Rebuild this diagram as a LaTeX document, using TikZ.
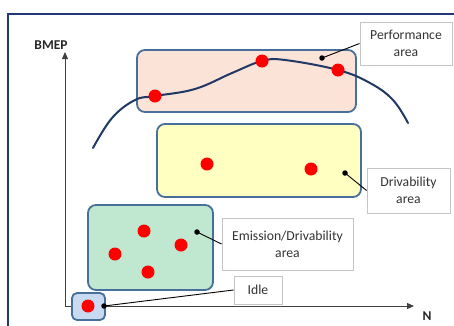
\documentclass[tikz,border=0pt]{standalone}
\usepackage{fontspec}
\setmainfont{Carlito}
\usetikzlibrary{arrows.meta}

\definecolor{frameblue}{HTML}{1F3A76}
\definecolor{regionedge}{HTML}{46709A}
\definecolor{perffill}{HTML}{FCE3D8}
\definecolor{drivfill}{HTML}{FFFFC2}
\definecolor{emisfill}{HTML}{C0E8D1}
\definecolor{idlefill}{HTML}{C8DAF1}
\definecolor{curveblue}{HTML}{1F3864}
\definecolor{calloutedge}{HTML}{C4C4C4}
\definecolor{axisgray}{HTML}{404040}

\tikzset{
  region/.style={draw=regionedge, line width=1.8pt, rounded corners=8pt,
    inner sep=0pt, outer sep=0pt},
  reddot/.style={circle, fill=red, inner sep=0pt, minimum size=13pt},
  blackdot/.style={circle, fill=black, inner sep=0pt, minimum size=5.5pt},
  callout/.style={draw=calloutedge, line width=0.9pt, fill=white, align=center,
    inner sep=0pt, text=black!80, font=\fontsize{13.7}{17}\selectfont},
  leader/.style={black, line width=0.9pt},
  axis/.style={axisgray, line width=1pt, -{Triangle[length=7pt,width=6pt]}},
  axislabel/.style={font=\fontsize{13.5}{16}\selectfont\bfseries, text=black!85},
  engcurve/.style={curveblue, line width=2pt, line cap=round}
}

\begin{document}
\begin{tikzpicture}[x=1pt, y=-1pt]
\useasboundingbox (0,0) rectangle (454,325);

% outer frame
\draw[frameblue, line width=2.4pt] (8,330) |- (460,14);

% axes
\coordinate (origin) at (65,306);
\coordinate (ytip) at (65,52);
\coordinate (xtip) at (414,306);
\draw[axis] (origin) -- (ytip);
\draw[axis] (64.5,306) -- (xtip);
\node[axislabel] (bmep) at (51,45) {BMEP};
\node[axislabel] (nlabel) at (427,316) {N};

% operating regions
\node[region, fill=perffill, minimum width=219pt, minimum height=62pt] (perf) at (246.5,81) {};
\node[region, fill=drivfill, minimum width=204pt, minimum height=73pt] (driv) at (259,160.5) {};
\node[region, fill=emisfill, minimum width=125pt, minimum height=85pt] (emis) at (150.5,247.5) {};
\node[region, fill=idlefill, rounded corners=5pt, minimum width=33pt, minimum height=27pt] (idle) at (88.5,306.5) {};

% full-load torque curve
\draw[engcurve] plot[smooth, tension=0.65] coordinates {
  (93,148) (112,118) (135,100) (155,96) (195,89) (232,73)
  (262,61) (285,60) (338,70) (370,83) (393,100) (408,123)};

% operating points
\node[reddot] (p1) at (155,96) {};
\node[reddot] (p2) at (262,61) {};
\node[reddot] (p3) at (338,70) {};
\node[reddot] (d1) at (207,164) {};
\node[reddot] (d2) at (311,169) {};
\node[reddot] (e1) at (144,231) {};
\node[reddot] (e2) at (181,245) {};
\node[reddot] (e3) at (115,254) {};
\node[reddot] (e4) at (148,272) {};
\node[reddot] (i1) at (88,306) {};

% callouts
\node[callout, minimum width=92pt, minimum height=43pt] (perflabel) at (406,43.5) {Performance\\area};
\node[callout, minimum width=83pt, minimum height=45pt] (drivlabel) at (408.5,190.5) {Drivability\\area};
\node[callout, minimum width=131pt, minimum height=52pt] (emislabel) at (287.5,244) {Emission/Drivability\\area};
\node[callout, minimum width=48pt, minimum height=28pt] (idlelabel) at (258,290) {Idle};

\node[blackdot] (perfpt) at (322,58) {};
\node[blackdot] (drivpt) at (345,173) {};
\node[blackdot] (emispt) at (197,232) {};
\node[blackdot] (idlept) at (104,306) {};

\draw[leader] (perfpt.center) -- (perflabel.west);
\draw[leader] (drivpt.center) -- (drivlabel.west);
\draw[leader] (emispt.center) -- (emislabel.west);
\draw[leader] (idlept.center) -- (idlelabel.west);
\end{tikzpicture}
\end{document}
